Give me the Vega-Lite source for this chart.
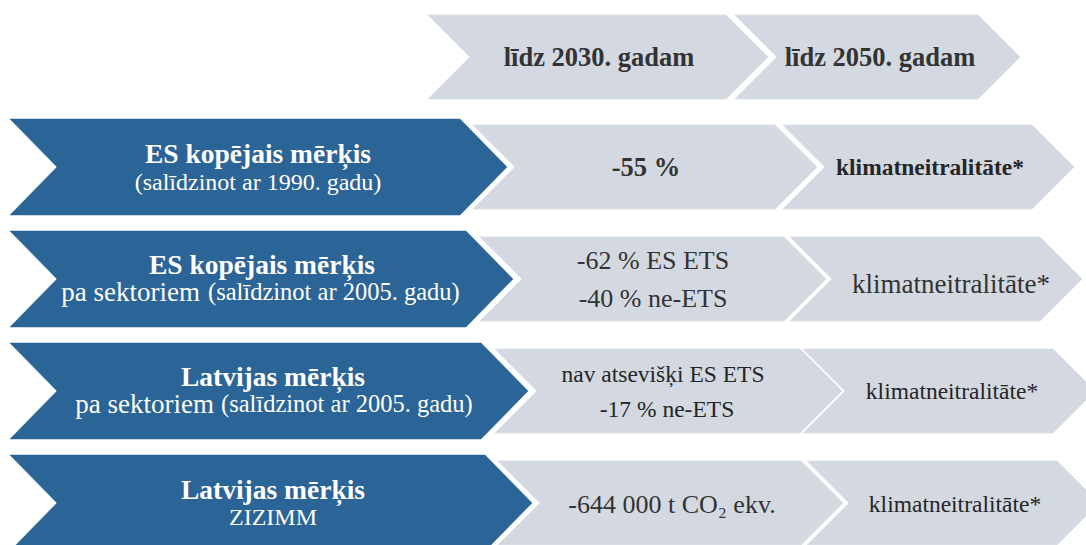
{
  "$schema": "https://vega.github.io/schema/vega-lite/v6.json",
  "width": 1086,
  "height": 545,
  "padding": 0,
  "autosize": {"type": "fit", "contains": "padding"},
  "background": "white",
  "config": {"view": {"stroke": null}, "text": {"font": "Liberation Serif, Times New Roman, serif"}},
  "datasets": {
    "shapes": [
      {"shape": "h1", "kind": "grey", "ord": 1, "x": 428, "y": 15},
      {"shape": "h1", "kind": "grey", "ord": 2, "x": 726, "y": 15},
      {"shape": "h1", "kind": "grey", "ord": 3, "x": 768, "y": 57},
      {"shape": "h1", "kind": "grey", "ord": 4, "x": 726, "y": 99},
      {"shape": "h1", "kind": "grey", "ord": 5, "x": 428, "y": 99},
      {"shape": "h1", "kind": "grey", "ord": 6, "x": 470, "y": 57},
      {"shape": "h1", "kind": "grey", "ord": 7, "x": 428, "y": 15},
      {"shape": "h2", "kind": "grey", "ord": 1, "x": 735, "y": 15},
      {"shape": "h2", "kind": "grey", "ord": 2, "x": 978, "y": 15},
      {"shape": "h2", "kind": "grey", "ord": 3, "x": 1020, "y": 57},
      {"shape": "h2", "kind": "grey", "ord": 4, "x": 978, "y": 99},
      {"shape": "h2", "kind": "grey", "ord": 5, "x": 735, "y": 99},
      {"shape": "h2", "kind": "grey", "ord": 6, "x": 777, "y": 57},
      {"shape": "h2", "kind": "grey", "ord": 7, "x": 735, "y": 15},

      {"shape": "b1", "kind": "blue", "ord": 1, "x": 10, "y": 119},
      {"shape": "b1", "kind": "blue", "ord": 2, "x": 460, "y": 119},
      {"shape": "b1", "kind": "blue", "ord": 3, "x": 507, "y": 167},
      {"shape": "b1", "kind": "blue", "ord": 4, "x": 460, "y": 215},
      {"shape": "b1", "kind": "blue", "ord": 5, "x": 10, "y": 215},
      {"shape": "b1", "kind": "blue", "ord": 6, "x": 57, "y": 167},
      {"shape": "b1", "kind": "blue", "ord": 7, "x": 10, "y": 119},
      {"shape": "b2", "kind": "blue", "ord": 1, "x": 10, "y": 231},
      {"shape": "b2", "kind": "blue", "ord": 2, "x": 466, "y": 231},
      {"shape": "b2", "kind": "blue", "ord": 3, "x": 513, "y": 279},
      {"shape": "b2", "kind": "blue", "ord": 4, "x": 466, "y": 327},
      {"shape": "b2", "kind": "blue", "ord": 5, "x": 10, "y": 327},
      {"shape": "b2", "kind": "blue", "ord": 6, "x": 57, "y": 279},
      {"shape": "b2", "kind": "blue", "ord": 7, "x": 10, "y": 231},
      {"shape": "b3", "kind": "blue", "ord": 1, "x": 10, "y": 343},
      {"shape": "b3", "kind": "blue", "ord": 2, "x": 481, "y": 343},
      {"shape": "b3", "kind": "blue", "ord": 3, "x": 528, "y": 391},
      {"shape": "b3", "kind": "blue", "ord": 4, "x": 481, "y": 439},
      {"shape": "b3", "kind": "blue", "ord": 5, "x": 10, "y": 439},
      {"shape": "b3", "kind": "blue", "ord": 6, "x": 57, "y": 391},
      {"shape": "b3", "kind": "blue", "ord": 7, "x": 10, "y": 343},
      {"shape": "b4", "kind": "blue", "ord": 1, "x": 10, "y": 455},
      {"shape": "b4", "kind": "blue", "ord": 2, "x": 485, "y": 455},
      {"shape": "b4", "kind": "blue", "ord": 3, "x": 532, "y": 503},
      {"shape": "b4", "kind": "blue", "ord": 4, "x": 485, "y": 551},
      {"shape": "b4", "kind": "blue", "ord": 5, "x": 10, "y": 551},
      {"shape": "b4", "kind": "blue", "ord": 6, "x": 57, "y": 503},
      {"shape": "b4", "kind": "blue", "ord": 7, "x": 10, "y": 455},

      {"shape": "g21", "kind": "grey", "ord": 1, "x": 473, "y": 125},
      {"shape": "g21", "kind": "grey", "ord": 2, "x": 775, "y": 125},
      {"shape": "g21", "kind": "grey", "ord": 3, "x": 817, "y": 167},
      {"shape": "g21", "kind": "grey", "ord": 4, "x": 775, "y": 209},
      {"shape": "g21", "kind": "grey", "ord": 5, "x": 473, "y": 209},
      {"shape": "g21", "kind": "grey", "ord": 6, "x": 515, "y": 167},
      {"shape": "g21", "kind": "grey", "ord": 7, "x": 473, "y": 125},
      {"shape": "g22", "kind": "grey", "ord": 1, "x": 480, "y": 237},
      {"shape": "g22", "kind": "grey", "ord": 2, "x": 784, "y": 237},
      {"shape": "g22", "kind": "grey", "ord": 3, "x": 826, "y": 279},
      {"shape": "g22", "kind": "grey", "ord": 4, "x": 784, "y": 321},
      {"shape": "g22", "kind": "grey", "ord": 5, "x": 480, "y": 321},
      {"shape": "g22", "kind": "grey", "ord": 6, "x": 522, "y": 279},
      {"shape": "g22", "kind": "grey", "ord": 7, "x": 480, "y": 237},
      {"shape": "g23", "kind": "grey", "ord": 1, "x": 495, "y": 349},
      {"shape": "g23", "kind": "grey", "ord": 2, "x": 800, "y": 349},
      {"shape": "g23", "kind": "grey", "ord": 3, "x": 842, "y": 391},
      {"shape": "g23", "kind": "grey", "ord": 4, "x": 800, "y": 433},
      {"shape": "g23", "kind": "grey", "ord": 5, "x": 495, "y": 433},
      {"shape": "g23", "kind": "grey", "ord": 6, "x": 537, "y": 391},
      {"shape": "g23", "kind": "grey", "ord": 7, "x": 495, "y": 349},
      {"shape": "g24", "kind": "grey", "ord": 1, "x": 498, "y": 461},
      {"shape": "g24", "kind": "grey", "ord": 2, "x": 801, "y": 461},
      {"shape": "g24", "kind": "grey", "ord": 3, "x": 843, "y": 503},
      {"shape": "g24", "kind": "grey", "ord": 4, "x": 801, "y": 545},
      {"shape": "g24", "kind": "grey", "ord": 5, "x": 498, "y": 545},
      {"shape": "g24", "kind": "grey", "ord": 6, "x": 540, "y": 503},
      {"shape": "g24", "kind": "grey", "ord": 7, "x": 498, "y": 461},

      {"shape": "g31", "kind": "grey", "ord": 1, "x": 783, "y": 125},
      {"shape": "g31", "kind": "grey", "ord": 2, "x": 1032, "y": 125},
      {"shape": "g31", "kind": "grey", "ord": 3, "x": 1074, "y": 167},
      {"shape": "g31", "kind": "grey", "ord": 4, "x": 1032, "y": 209},
      {"shape": "g31", "kind": "grey", "ord": 5, "x": 783, "y": 209},
      {"shape": "g31", "kind": "grey", "ord": 6, "x": 825, "y": 167},
      {"shape": "g31", "kind": "grey", "ord": 7, "x": 783, "y": 125},
      {"shape": "g32", "kind": "grey", "ord": 1, "x": 790, "y": 237},
      {"shape": "g32", "kind": "grey", "ord": 2, "x": 1040, "y": 237},
      {"shape": "g32", "kind": "grey", "ord": 3, "x": 1082, "y": 279},
      {"shape": "g32", "kind": "grey", "ord": 4, "x": 1040, "y": 321},
      {"shape": "g32", "kind": "grey", "ord": 5, "x": 790, "y": 321},
      {"shape": "g32", "kind": "grey", "ord": 6, "x": 832, "y": 279},
      {"shape": "g32", "kind": "grey", "ord": 7, "x": 790, "y": 237},
      {"shape": "g33", "kind": "grey", "ord": 1, "x": 803, "y": 349},
      {"shape": "g33", "kind": "grey", "ord": 2, "x": 1053, "y": 349},
      {"shape": "g33", "kind": "grey", "ord": 3, "x": 1095, "y": 391},
      {"shape": "g33", "kind": "grey", "ord": 4, "x": 1053, "y": 433},
      {"shape": "g33", "kind": "grey", "ord": 5, "x": 803, "y": 433},
      {"shape": "g33", "kind": "grey", "ord": 6, "x": 845, "y": 391},
      {"shape": "g33", "kind": "grey", "ord": 7, "x": 803, "y": 349},
      {"shape": "g34", "kind": "grey", "ord": 1, "x": 807, "y": 461},
      {"shape": "g34", "kind": "grey", "ord": 2, "x": 1057, "y": 461},
      {"shape": "g34", "kind": "grey", "ord": 3, "x": 1099, "y": 503},
      {"shape": "g34", "kind": "grey", "ord": 4, "x": 1057, "y": 545},
      {"shape": "g34", "kind": "grey", "ord": 5, "x": 807, "y": 545},
      {"shape": "g34", "kind": "grey", "ord": 6, "x": 849, "y": 503},
      {"shape": "g34", "kind": "grey", "ord": 7, "x": 807, "y": 461}
    ],
    "labels": [
      {"style": "header", "text": "līdz 2030. gadam", "x": 599, "y": 58},
      {"style": "header", "text": "līdz 2050. gadam", "x": 880, "y": 58},
      {"style": "wtitle", "text": "ES kopējais mērķis", "x": 258, "y": 155},
      {"style": "wtitle", "text": "ES kopējais mērķis", "x": 262, "y": 266},
      {"style": "wtitle", "text": "Latvijas mērķis", "x": 273, "y": 378},
      {"style": "wtitle", "text": "Latvijas mērķis", "x": 273, "y": 491},
      {"style": "wsub", "text": "(salīdzinot ar 1990. gadu)", "x": 258, "y": 183},
      {"style": "wsub", "text": "ZIZIMM", "x": 273, "y": 518},
      {"style": "wpa", "text": "pa sektoriem", "x": 200, "y": 293},
      {"style": "wpa", "text": "pa sektoriem", "x": 214, "y": 405},
      {"style": "wsal", "text": "(salīdzinot ar 2005. gadu)", "x": 208, "y": 293},
      {"style": "wsal", "text": "(salīdzinot ar 2005. gadu)", "x": 221, "y": 405},
      {"style": "dbold", "text": "-55 %", "x": 646, "y": 168},
      {"style": "dbold2", "text": "klimatneitralitāte*", "x": 930, "y": 168},
      {"style": "dreg", "text": "-62 % ES ETS", "x": 653, "y": 261},
      {"style": "dreg", "text": "-40 % ne-ETS", "x": 653, "y": 299},
      {"style": "dreg", "text": "-644 000 t CO₂ ekv.", "x": 672, "y": 505},
      {"style": "dbig", "text": "klimatneitralitāte*", "x": 951, "y": 285},
      {"style": "dsmall", "text": "nav atsevišķi ES ETS", "x": 663, "y": 375},
      {"style": "dsmall", "text": "-17 % ne-ETS", "x": 667, "y": 410},
      {"style": "dsmall", "text": "klimatneitralitāte*", "x": 952, "y": 392},
      {"style": "dsmall", "text": "klimatneitralitāte*", "x": 955, "y": 505}
    ]
  },
  "encoding": {
    "x": {"field": "x", "type": "quantitative", "scale": {"domain": [0, 1086], "nice": false, "zero": false}, "axis": null},
    "y": {"field": "y", "type": "quantitative", "scale": {"domain": [0, 545], "nice": false, "zero": false, "reverse": true}, "axis": null}
  },
  "layer": [
    {
      "data": {"name": "shapes"},
      "transform": [{"filter": "datum.kind === 'grey'"}],
      "mark": {"type": "line", "fill": "#D3D8E1", "stroke": "#DCE0E8", "strokeWidth": 1, "clip": true, "interpolate": "linear"},
      "encoding": {"detail": {"field": "shape"}, "order": {"field": "ord", "type": "quantitative"}}
    },
    {
      "data": {"name": "shapes"},
      "transform": [{"filter": "datum.kind === 'blue'"}],
      "mark": {"type": "line", "fill": "#2B6496", "stroke": "#2B6496", "strokeWidth": 0.5, "clip": true, "interpolate": "linear"},
      "encoding": {"detail": {"field": "shape"}, "order": {"field": "ord", "type": "quantitative"}}
    },
    {
      "data": {"name": "labels"},
      "transform": [{"filter": "datum.style === 'header'"}],
      "mark": {"type": "text", "fontWeight": "bold", "fontSize": 26.5, "color": "#333333", "baseline": "middle", "align": "center"},
      "encoding": {"text": {"field": "text"}}
    },
    {
      "data": {"name": "labels"},
      "transform": [{"filter": "datum.style === 'wtitle'"}],
      "mark": {"type": "text", "fontWeight": "bold", "fontSize": 27.5, "color": "#FFFFFF", "baseline": "middle", "align": "center"},
      "encoding": {"text": {"field": "text"}}
    },
    {
      "data": {"name": "labels"},
      "transform": [{"filter": "datum.style === 'wsub'"}],
      "mark": {"type": "text", "fontSize": 24, "color": "#FFFFFF", "baseline": "middle", "align": "center"},
      "encoding": {"text": {"field": "text"}}
    },
    {
      "data": {"name": "labels"},
      "transform": [{"filter": "datum.style === 'wpa'"}],
      "mark": {"type": "text", "fontSize": 27, "color": "#FFFFFF", "baseline": "middle", "align": "right"},
      "encoding": {"text": {"field": "text"}}
    },
    {
      "data": {"name": "labels"},
      "transform": [{"filter": "datum.style === 'wsal'"}],
      "mark": {"type": "text", "fontSize": 24.5, "color": "#FFFFFF", "baseline": "middle", "align": "left"},
      "encoding": {"text": {"field": "text"}}
    },
    {
      "data": {"name": "labels"},
      "transform": [{"filter": "datum.style === 'dbold'"}],
      "mark": {"type": "text", "fontWeight": "bold", "fontSize": 26.5, "color": "#333333", "baseline": "middle", "align": "center"},
      "encoding": {"text": {"field": "text"}}
    },
    {
      "data": {"name": "labels"},
      "transform": [{"filter": "datum.style === 'dbold2'"}],
      "mark": {"type": "text", "fontWeight": "bold", "fontSize": 23.5, "color": "#262626", "baseline": "middle", "align": "center"},
      "encoding": {"text": {"field": "text"}}
    },
    {
      "data": {"name": "labels"},
      "transform": [{"filter": "datum.style === 'dreg'"}],
      "mark": {"type": "text", "fontSize": 26, "color": "#333333", "baseline": "middle", "align": "center"},
      "encoding": {"text": {"field": "text"}}
    },
    {
      "data": {"name": "labels"},
      "transform": [{"filter": "datum.style === 'dbig'"}],
      "mark": {"type": "text", "fontSize": 27, "color": "#333333", "baseline": "middle", "align": "center"},
      "encoding": {"text": {"field": "text"}}
    },
    {
      "data": {"name": "labels"},
      "transform": [{"filter": "datum.style === 'dsmall'"}],
      "mark": {"type": "text", "fontSize": 23.5, "color": "#262626", "baseline": "middle", "align": "center"},
      "encoding": {"text": {"field": "text"}}
    }
  ]
}
